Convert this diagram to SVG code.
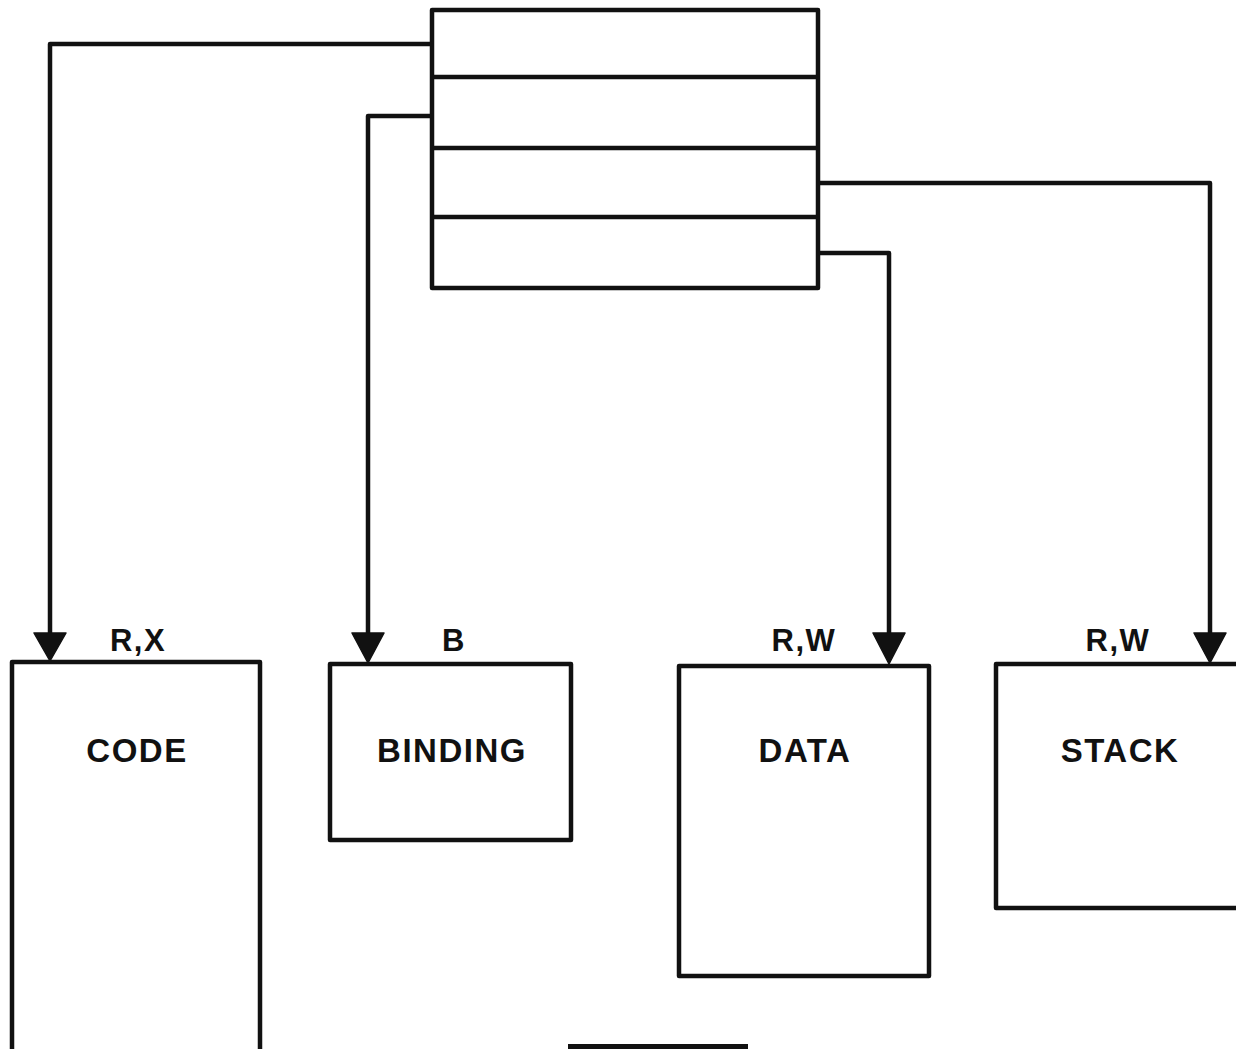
<svg xmlns="http://www.w3.org/2000/svg" width="1236" height="1049" viewBox="0 0 1236 1049">
<style>
.box{fill:none;stroke:#111;stroke-width:4.5;stroke-linejoin:round}
.ln{fill:none;stroke:#111;stroke-width:4.5;stroke-linejoin:round}
.t{font-family:"Liberation Sans",Arial,sans-serif;font-weight:bold;fill:#111;text-anchor:middle}
.lab{font-size:33px;letter-spacing:1.5px}
.acc{font-size:31px;letter-spacing:1.5px}
.ah{fill:#111;stroke:#111;stroke-width:1.5;stroke-linejoin:round}
</style>
<rect width="1236" height="1049" fill="#fff"/>
<g id="table">
<rect class="box" x="432" y="10" width="386" height="278"/>
<line class="ln" x1="432" y1="77" x2="818" y2="77"/>
<line class="ln" x1="432" y1="148" x2="818" y2="148"/>
<line class="ln" x1="432" y1="217" x2="818" y2="217"/>
</g>
<g id="connectors">
<path class="ln" d="M432,44 H50 V634"/>
<path class="ah" d="M34,633 L66,633 L50,661 Z"/>
<path class="ln" d="M432,116 H368 V634"/>
<path class="ah" d="M352,633 L384,633 L368,663 Z"/>
<path class="ln" d="M818,253 H889 V634"/>
<path class="ah" d="M873,633 L905,633 L889,664 Z"/>
<path class="ln" d="M818,183 H1210 V634"/>
<path class="ah" d="M1194,633 L1226,633 L1210,663 Z"/>
</g>
<g id="code">
<path class="box" d="M12,1049 V662 H260 V1049"/>
<text class="t acc" x="138" y="651">R,X</text>
<text class="t lab" x="137" y="762">CODE</text>
</g>
<g id="binding">
<rect class="box" x="330" y="664" width="241" height="176"/>
<text class="t acc" x="454" y="651">B</text>
<text class="t lab" x="452" y="762">BINDING</text>
</g>
<g id="data">
<rect class="box" x="679" y="666" width="250" height="310"/>
<text class="t acc" x="804" y="651">R,W</text>
<text class="t lab" x="805" y="762">DATA</text>
</g>
<g id="stack">
<path class="box" d="M1236,664 H996 V908 H1236"/>
<text class="t acc" x="1118" y="651">R,W</text>
<text class="t lab" x="1120" y="762">STACK</text>
</g>
<rect x="568" y="1044" width="180" height="6" fill="#111"/>
</svg>
